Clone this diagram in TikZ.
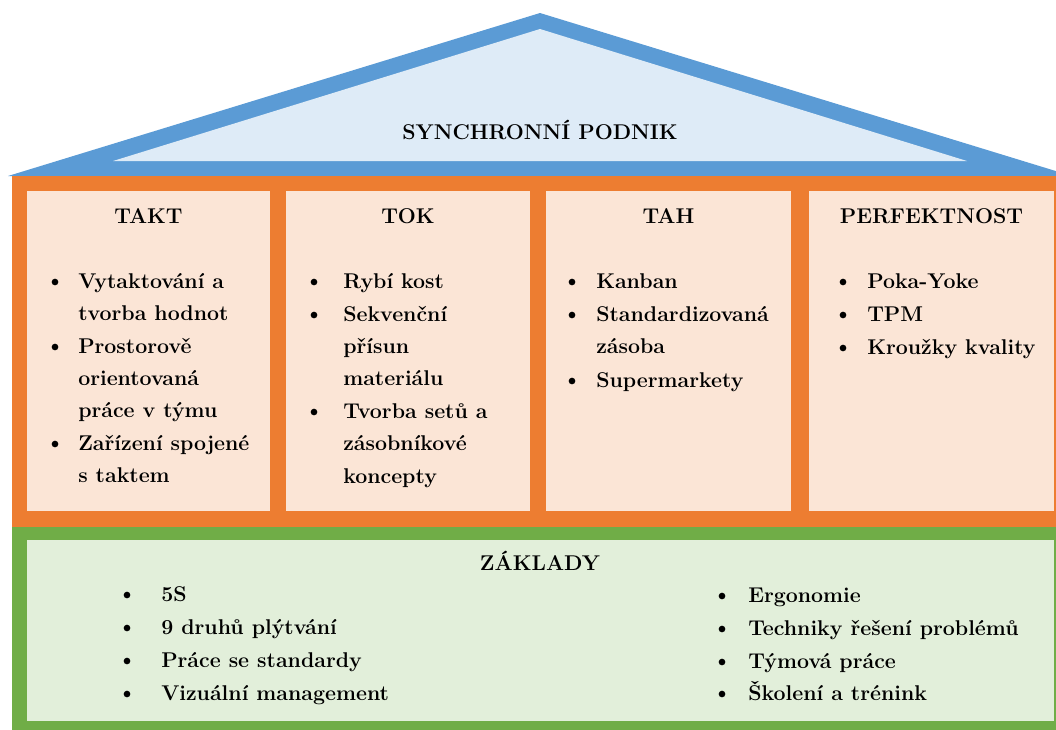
\documentclass[tikz,border=0pt]{standalone}
\usepackage{fontspec}
\newfontfamily\tnrbold{Latin Modern Roman}
\definecolor{roofblue}{HTML}{5B9BD5}
\definecolor{rooflight}{HTML}{DEEBF7}
\definecolor{orangeband}{HTML}{ED7D31}
\definecolor{pinkfill}{HTML}{FBE5D6}
\definecolor{greenband}{HTML}{70AD47}
\definecolor{greenlight}{HTML}{E2EFDA}
\begin{document}
\begin{tikzpicture}[x=0.75pt,y=-0.75pt,
  txt/.style={font=\tnrbold\bfseries\fontsize{16}{20}\selectfont, inner sep=0pt, anchor=base west},
  ttl/.style={font=\tnrbold\bfseries\fontsize{16}{20}\selectfont, inner sep=0pt, anchor=base},
  bul/.style={circle, fill=black, inner sep=0pt, minimum size=5pt}]
\useasboundingbox (0,0) rectangle (1056,729);
\clip (0,0) rectangle (1056,729);
% roof
\fill[roofblue] (8,176) -- (540,13) -- (1072,176) -- cycle;
\fill[rooflight] (113,161) -- (540,29) -- (967,161) -- cycle;
% pillars band
\fill[orangeband] (12,176) rectangle (1070,527);
\fill[pinkfill] (27,191) rectangle (270,511);
\fill[pinkfill] (286,191) rectangle (530,511);
\fill[pinkfill] (546,191) rectangle (791,511);
\fill[pinkfill] (809,191) rectangle (1054,511);
% foundation
\fill[greenband] (12,527) rectangle (1070,740);
\fill[greenlight] (27,540) rectangle (1054,721);
% titles
\node[ttl] (roof) at (540,139) {SYNCHRONNÍ PODNIK};
\node[ttl] (takt) at (148.5,223) {TAKT};
\node[ttl] (tok) at (408,223) {TOK};
\node[ttl] (tah) at (668.5,223) {TAH};
\node[ttl] (perf) at (931.5,223) {PERFEKTNOST};
\node[ttl] (zakl) at (540,570) {ZÁKLADY};
% pillar 1
\foreach \t/\y/\b [count=\i] in {Vytaktování a/288/1, tvorba hodnot/320/0, Prostorově/353/1, orientovaná/385/0, práce v týmu/417/0, Zařízení spojené/450/1, s taktem/482/0}{
  \node[txt] (a\i) at (78,\y) {\t};
  \ifnum\b=1 \node[bul] (ab\i) at (55,\y-6) {}; \fi
}
% pillar 2
\foreach \t/\y/\b [count=\i] in {Rybí kost/288/1, Sekvenční/321/1, přísun/353/0, materiálu/385/0, Tvorba setů a/418/1, zásobníkové/450/0, koncepty/483/0}{
  \node[txt] (b\i) at (343,\y) {\t};
  \ifnum\b=1 \node[bul] (bb\i) at (314,\y-6) {}; \fi
}
% pillar 3
\foreach \t/\y/\b [count=\i] in {Kanban/288/1, Standardizovaná/321/1, zásoba/353/0, Supermarkety/387/1}{
  \node[txt] (c\i) at (596,\y) {\t};
  \ifnum\b=1 \node[bul] (cb\i) at (572,\y-6) {}; \fi
}
% pillar 4
\foreach \t/\y/\b [count=\i] in {Poka-Yoke/288/1, TPM/321/1, Kroužky kvality/354/1}{
  \node[txt] (d\i) at (867,\y) {\t};
  \ifnum\b=1 \node[bul] (db\i) at (843,\y-6) {}; \fi
}
% foundation lists
\foreach \t/\y [count=\i] in {5S/601, 9 druhů plýtvání/634, Práce se standardy/667, Vizuální management/700}{
  \node[txt] (e\i) at (161,\y) {\t};
  \node[bul] (eb\i) at (127,\y-6) {};
}
\foreach \t/\y [count=\i] in {Ergonomie/602, Techniky řešení problémů/635, Týmová práce/668, Školení a trénink/700}{
  \node[txt] (f\i) at (748,\y) {\t};
  \node[bul] (fb\i) at (722,\y-6) {};
}
\end{tikzpicture}
\end{document}
